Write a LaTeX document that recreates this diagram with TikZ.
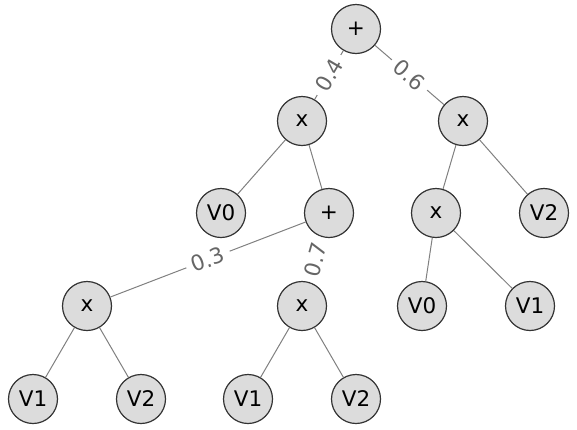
\documentclass[tikz,border=0pt]{standalone}
\usepackage{fontspec}
\setmainfont{DejaVu Sans}
\begin{document}
\begin{tikzpicture}[x=1pt,y=-1pt]
        \tikzstyle{op} = [circle, minimum size=49pt, inner sep=0pt, text centered, draw={rgb,255:red,51;green,51;blue,51}, line width=1.2pt, fill={rgb,255:red,220;green,220;blue,220}, font=\fontsize{21.5}{21.5}\selectfont]
        \tikzstyle{edge} = [draw={rgb,255:red,128;green,128;blue,128}, line width=1pt]
        \tikzstyle{weight} = [midway, sloped, fill=white, inner xsep=6pt, inner ysep=1pt, text={rgb,255:red,102;green,102;blue,102}, font=\fontsize{21.5}{21.5}\selectfont]
        \useasboundingbox (0,0) rectangle (577,429);
		\node [op] (0) at (356, 29) {+};
		\node [op] (1) at (302, 121) {x};
		\node [op] (2) at (463, 121) {x};
		\node [op] (3) at (221, 213) {V0};
		\node [op] (4) at (329, 213) {+};
		\node [op] (5) at (436, 213) {x};
		\node [op] (6) at (544, 213) {V2};
		\node [op] (7) at (87, 306) {x};
		\node [op] (8) at (302, 306) {x};
		\node [op] (9) at (422, 306) {V0};
		\node [op] (10) at (530, 306) {V1};
		\node [op] (11) at (33, 399) {V1};
		\node [op] (12) at (141, 399) {V2};
		\node [op] (13) at (248, 399) {V1};
		\node [op] (14) at (356, 399) {V2};
		\draw[edge] (0) to node[weight] {0.4} (1);
		\draw[edge] (0) to node[weight] {0.6} (2);
		\draw[edge] (1) to (3);
		\draw[edge] (1) to (4);
		\draw[edge] (2) to (5);
		\draw[edge] (2) to (6);
		\draw[edge] (4) to node[weight] {0.3} (7);
		\draw[edge] (4) to node[weight] {0.7} (8);
		\draw[edge] (5) to (9);
		\draw[edge] (5) to (10);
		\draw[edge] (7) to (11);
		\draw[edge] (7) to (12);
		\draw[edge] (8) to (13);
        \draw[edge] (8) to (14);
    \end{tikzpicture}
\end{document}
